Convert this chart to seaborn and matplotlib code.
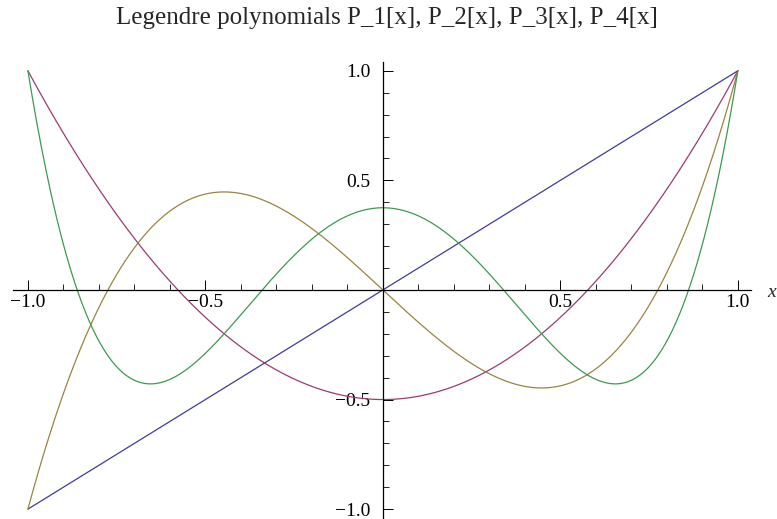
import numpy as np
import pandas as pd
import seaborn as sns
import matplotlib
matplotlib.use("Agg")
import matplotlib.pyplot as plt
from matplotlib.ticker import MultipleLocator, FuncFormatter

# Legendre polynomial coefficients (highest power first)
names = ["P_1[x]", "P_2[x]", "P_3[x]", "P_4[x]"]
coef_p1 = [1.0, 0.0]
coef_p2 = [1.5, 0.0, -0.5]
coef_p3 = [2.5, 0.0, -1.5, 0.0]
coef_p4 = [4.375, 0.0, -3.75, 0.0, 0.375]
colors = ["#3d3d99", "#993d71", "#998540", "#3d9954"]
x_domain = [-1.0, 1.0]
title = "Legendre polynomials P_1[x], P_2[x], P_3[x], P_4[x]"

xs = np.linspace(x_domain[0], x_domain[1], 801)
frames = []
for name, c in zip(names, [coef_p1, coef_p2, coef_p3, coef_p4]):
    frames.append(pd.DataFrame({"x": xs, "y": np.polyval(c, xs), "poly": name}))
df = pd.concat(frames, ignore_index=True)

sns.set_theme(style="white")
plt.rcParams["font.family"] = ["Liberation Serif", "DejaVu Serif"]
plt.rcParams["xtick.direction"] = "in"
plt.rcParams["ytick.direction"] = "in"

fig = plt.figure(figsize=(7.77, 5.19), dpi=100)
ax = fig.add_axes([13 / 777, 0.0, (751 - 13) / 777, (519 - 62) / 519])

sns.lineplot(data=df, x="x", y="y", hue="poly", palette=colors, ax=ax,
             legend=False, linewidth=0.9, sort=False, estimator=None)

ax.set_xlim(-1.042, 1.037)
ax.set_ylim(-1.045, 1.04)
ax.set_xlabel("")
ax.set_ylabel("")

for s in ["top", "right"]:
    ax.spines[s].set_visible(False)
ax.spines["left"].set_position(("data", 0))
ax.spines["bottom"].set_position(("data", 0))
for s in ["left", "bottom"]:
    ax.spines[s].set_color("black")
    ax.spines[s].set_linewidth(0.9)

ax.xaxis.set_major_locator(MultipleLocator(0.5))
ax.xaxis.set_minor_locator(MultipleLocator(0.1))
ax.yaxis.set_major_locator(MultipleLocator(0.5))
ax.yaxis.set_minor_locator(MultipleLocator(0.1))

def fmt(v, pos):
    if abs(v) < 1e-9:
        return ""
    return ("\u2212" if v < 0 else "") + f"{abs(v):.1f}"

ax.xaxis.set_major_formatter(FuncFormatter(fmt))
ax.yaxis.set_major_formatter(FuncFormatter(fmt))

for axis in ("x", "y"):
    ax.tick_params(axis=axis, which="major", direction="in", length=7, width=0.7,
                   labelsize=14, pad=5, color="black", labelcolor="black")
    ax.tick_params(axis=axis, which="minor", direction="in", length=4, width=0.6,
                   color="black")
ax.tick_params(axis="x", which="both", bottom=True, top=False)
ax.tick_params(axis="y", which="both", left=True, right=False)
ax.tick_params(axis="x", which="major", pad=3)
ax.tick_params(axis="y", which="major", pad=9)

t = ax.text(1.095, -0.012, "x", fontsize=14, style="italic", va="center", ha="center")
t.set_clip_on(False)

fig.text(387 / 777, 1 - 18 / 519, title, ha="center", va="center", fontsize=18)

fig.savefig("out.png", dpi=100)
